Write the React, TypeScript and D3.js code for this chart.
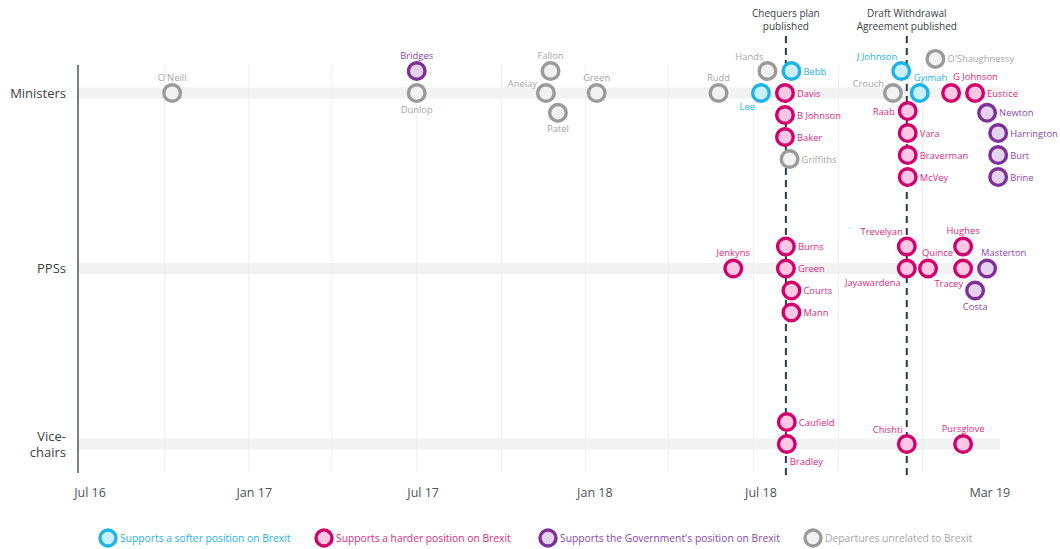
import React from 'react'
import * as d3 from 'd3'

const width = 1060
const height = 549
const font = '"Open Sans", "Noto Sans", sans-serif'

const rows = ['Ministers', 'PPSs', 'Vice-chairs']

// [name, row, date left, stack slot, label position]
const softer = [
  ['Lee', 'Ministers', '2018-06-09', 0, 'bl'],
  ['Bebb', 'Ministers', '2018-07-12', -1, 'r'],
  ['J Johnson', 'Ministers', '2018-11-08', -1, 'tl'],
  ['Gyimah', 'Ministers', '2018-11-28', 0, 'tr']
]

const harder = [
  ['Davis', 'Ministers', '2018-07-05', 0, 'r'],
  ['B Johnson', 'Ministers', '2018-07-05', 1, 'r'],
  ['Baker', 'Ministers', '2018-07-05', 2, 'r'],
  ['Raab', 'Ministers', '2018-11-15', 0.82, 'l'],
  ['Vara', 'Ministers', '2018-11-15', 1.82, 'r'],
  ['Braverman', 'Ministers', '2018-11-15', 2.82, 'r'],
  ['McVey', 'Ministers', '2018-11-15', 3.82, 'r'],
  ['G Johnson', 'Ministers', '2019-01-01', 0, 'tR'],
  ['Eustice', 'Ministers', '2019-01-27', 0, 'r'],
  ['Jenkyns', 'PPSs', '2018-05-10', 0, 't'],
  ['Burns', 'PPSs', '2018-07-06', -1, 'r'],
  ['Green', 'PPSs', '2018-07-06', 0, 'r'],
  ['Courts', 'PPSs', '2018-07-12', 1, 'r'],
  ['Mann', 'PPSs', '2018-07-12', 2, 'r'],
  ['Trevelyan', 'PPSs', '2018-11-14', -1, 'tl'],
  ['Jayawardena', 'PPSs', '2018-11-14', 0, 'bl'],
  ['Quince', 'PPSs', '2018-12-07', 0, 'tr'],
  ['Hughes', 'PPSs', '2019-01-14', -1, 't'],
  ['Tracey', 'PPSs', '2019-01-14', 0, 'bL'],
  ['Caufield', 'Vice-chairs', '2018-07-07', -1, 'r'],
  ['Bradley', 'Vice-chairs', '2018-07-07', 0, 'br'],
  ['Chishti', 'Vice-chairs', '2018-11-14', 0, 'tl'],
  ['Pursglove', 'Vice-chairs', '2019-01-14', 0, 't']
]

const government = [
  ['Bridges', 'Ministers', '2017-06-01', -1, 't'],
  ['Newton', 'Ministers', '2019-02-09', 0.9, 'r'],
  ['Harrington', 'Ministers', '2019-02-21', 1.82, 'r'],
  ['Burt', 'Ministers', '2019-02-21', 2.82, 'r'],
  ['Brine', 'Ministers', '2019-02-21', 3.82, 'r'],
  ['Masterton', 'PPSs', '2019-02-09', 0, 'tr'],
  ['Costa', 'PPSs', '2019-01-27', 1, 'b']
]

const unrelated = [
  ["O'Neill", 'Ministers', '2016-09-09', 0, 't'],
  ['Dunlop', 'Ministers', '2017-06-01', 0, 'b'],
  ['Fallon', 'Ministers', '2017-10-24', -1, 't'],
  ['Anelay', 'Ministers', '2017-10-19', 0, 'ul'],
  ['Patel', 'Ministers', '2017-11-01', 0.9, 'b'],
  ['Green', 'Ministers', '2017-12-13', 0, 't'],
  ['Rudd', 'Ministers', '2018-04-24', 0, 't'],
  ['Hands', 'Ministers', '2018-06-16', -1, 'tl'],
  ['Griffiths', 'Ministers', '2018-07-10', 3, 'r'],
  ['Crouch', 'Ministers', '2018-10-30', 0, 'ul'],
  ["O'Shaughnessy", 'Ministers', '2018-12-15', -1.55, 'r']
]

const events = [
  { lines: ['Chequers plan', 'published'], date: '2018-07-06' },
  { lines: ['Draft Withdrawal', 'Agreement published'], date: '2018-11-14' }
]

const tickLabels = [
  ['Jul 16', '2016-06-12'],
  ['Jan 17', '2016-12-07'],
  ['Jul 17', '2017-06-08'],
  ['Jan 18', '2017-12-11'],
  ['Jul 18', '2018-06-09'],
  ['Mar 19', '2019-02-12']
]

const legendItems = [
  ['softer', 'Supports a softer position on Brexit'],
  ['harder', 'Supports a harder position on Brexit'],
  ['government', "Supports the Government's position on Brexit"],
  ['unrelated', 'Departures unrelated to Brexit']
]

const palette = {
  softer: { stroke: '#1db3e6', fill: '#c9effb', text: '#1db3e6' },
  harder: { stroke: '#d2006c', fill: '#fdc6e2', text: '#db2b83' },
  government: { stroke: '#7e2f98', fill: '#e5d3ee', text: '#8e45aa' },
  unrelated: { stroke: '#9a9a9a', fill: '#f1f1f1', text: '#a6a6a6' }
}

// label offsets relative to the dot centre
const labelPos = {
  r: { dx: 12, dy: 3.5, anchor: 'start' },
  l: { dx: -13, dy: 3.5, anchor: 'end' },
  t: { dx: 0, dy: -12.5, anchor: 'middle' },
  b: { dx: 0, dy: 19.5, anchor: 'middle' },
  tl: { dx: -4, dy: -11.5, anchor: 'end' },
  ul: { dx: -9, dy: -6.5, anchor: 'end' },
  bl: { dx: -6, dy: 17, anchor: 'end' },
  bL: { dx: 0, dy: 18, anchor: 'end' },
  tr: { dx: -6, dy: -12.5, anchor: 'start' },
  tR: { dx: 2, dy: -13, anchor: 'start' },
  br: { dx: 3, dy: 20.5, anchor: 'start' }
}

const parse = d3.timeParse('%Y-%m-%d')

const App = () => {
  const x = d3.scaleTime()
    .domain([new Date(2016, 4, 30), new Date(2019, 1, 23)])
    .range([78, 1000])
  const y = d3.scalePoint().domain(rows).range([93, 444])
  const slot = d3.scaleLinear().domain([0, 1]).range([0, 22])

  const top = 65
  const bottom = 473
  const grid = d3.timeMonth.range(new Date(2016, 8, 1), x.domain()[1], 3)

  const groups = [
    ['unrelated', unrelated],
    ['softer', softer],
    ['government', government],
    ['harder', harder]
  ]

  const legendX = [108, 324, 548, 813]

  return (
    <svg width={width} height={height} style={{ position: 'absolute', left: 0, top: 0, fontFamily: font }}>
      <rect width={width} height={height} fill='#fff' />

      {rows.map((r) => (
        <rect key={r} x={x.range()[0]} y={y(r) - 5.5} width={x.range()[1] - x.range()[0]} height={11} fill='#f2f2f2' />
      ))}

      {grid.map((d, i) => (
        <line key={i} x1={x(d)} x2={x(d)} y1={top} y2={bottom - 1} stroke='#eeeeee' strokeWidth={1} />
      ))}

      <line x1={x.range()[0]} x2={x.range()[0]} y1={top} y2={bottom} stroke='#4b5661' strokeWidth={1.5} />

      {rows.map((r) => {
        const parts = r === 'Vice-chairs' ? ['Vice-', 'chairs'] : [r]
        return (
          <text key={r} textAnchor='end' fontSize={13} fill='#3a3f44'>
            {parts.map((p, i) => (
              <tspan key={i} x={66} y={y(r) + 4.5 + (i - (parts.length - 1) / 2) * 16}>{p}</tspan>
            ))}
          </text>
        )
      })}

      {tickLabels.map(([label, date]) => (
        <text key={label} x={x(parse(date))} y={497} textAnchor='middle' fontSize={12.5} fill='#4d5358'>{label}</text>
      ))}

      {events.map((e) => {
        const ex = x(parse(e.date))
        return (
          <g key={e.date}>
            <line x1={ex} x2={ex} y1={36} y2={479} stroke='#2e3a44' strokeWidth={2} strokeDasharray='7 5' />
            {e.lines.map((l, i) => (
              <text key={i} x={ex} y={17 + i * 13} textAnchor='middle' fontSize={10} fill='#3a3f44'>{l}</text>
            ))}
          </g>
        )
      })}

      {groups.map(([key, list]) => {
        const c = palette[key]
        return (
          <g key={key}>
            {list.map(([name, row, date, s, pos]) => {
              const cx = x(parse(date))
              const cy = y(row) + slot(s)
              const lp = labelPos[pos]
              return (
                <g key={name + row}>
                  <circle cx={cx} cy={cy} r={8.3} fill={c.fill} stroke={c.stroke} strokeWidth={3.4} />
                  <text x={cx + lp.dx} y={cy + lp.dy} textAnchor={lp.anchor} fontSize={9.4} fill={c.text}>{name}</text>
                </g>
              )
            })}
          </g>
        )
      })}

      {legendItems.map(([key, label], i) => {
        const c = palette[key]
        return (
          <g key={key} transform={`translate(${legendX[i]},538)`}>
            <circle r={8} fill={c.fill} stroke={c.stroke} strokeWidth={3.4} />
            <text x={12} y={3.5} fontSize={10.3} fill={c.text}>{label}</text>
          </g>
        )
      })}
    </svg>
  )
}

export default App
